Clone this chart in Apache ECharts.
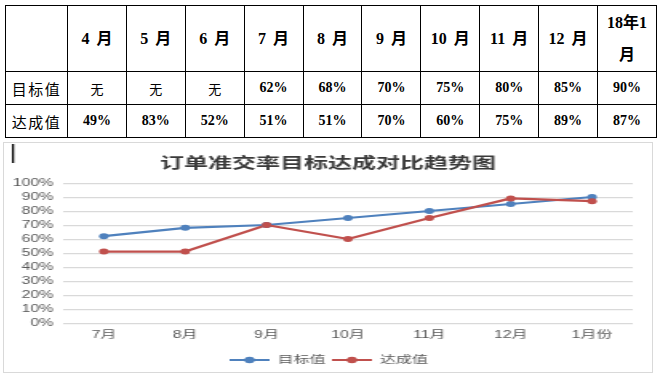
<!DOCTYPE html>
<html>
<head>
<meta charset="utf-8">
<script src="https://cdn.jsdelivr.net/npm/echarts@6/dist/echarts.min.js"></script>
<style>
  body { margin: 0; width: 660px; height: 377px; background: #fff; position: relative; overflow: hidden; }
  .table-style {
    position: absolute; left: 5px; top: 5px;
    border-collapse: collapse; table-layout: fixed; width: 651px;
    font-family: "Liberation Serif", "Noto Sans CJK SC", serif;
    color: #000;
  }
  .table-style td {
    border: 1px solid #000; text-align: center; vertical-align: middle;
    padding: 0; font-weight: bold; font-size: 14px;
  }
  .table-style tr.head td { height: 65px; font-size: 16px; line-height: 32px; word-spacing: 3px; }
  .table-style tr.row td { height: 32px; }
  .table-style td.label { font-size: 15px; letter-spacing: 1.5px; font-weight: normal; font-family: "Noto Sans CJK SC", sans-serif; }
  .table-style td.none { font-weight: normal; font-family: "Noto Sans CJK SC", sans-serif; font-size: 13px; }
  .table-style .wrap { display: inline-block; width: 46px; }
  .chart-box {
    position: absolute; left: 3px; top: 142px; width: 648px; height: 229px;
    border: 1px solid #d9d9d9; overflow: hidden;
  }
  /* 图片在原文档中被横向拉伸 */
  .chart-style {
    position: absolute; left: 0; top: 0; width: 405px; height: 229px;
    transform: scaleX(1.6); transform-origin: 0 0;
  }
</style>
</head>
<body>
<table class="table-style" id="dataTable"></table>
<div class="chart-box"><div id="trendChart" class="chart-style"></div></div>
<script>
// 表格数据
var tableMonths = ['4 月', '5 月', '6 月', '7 月', '8 月', '9 月', '10 月', '11 月', '12 月', '18年1月']
var tableTarget = ['无', '无', '无', '62%', '68%', '70%', '75%', '80%', '85%', '90%']
var tableActual = ['49%', '83%', '52%', '51%', '51%', '70%', '60%', '75%', '89%', '87%']

// 图表数据
var chartTitle = '订单准交率目标达成对比趋势图'
var chartMonths = ['7月', '8月', '9月', '10月', '11月', '12月', '1月份']
var targetValues = [62, 68, 70, 75, 80, 85, 90]
var actualValues = [51, 51, 70, 60, 75, 89, 87]

function buildTable() {
  var html = '<colgroup><col style="width:62px">'
  for (var i = 0; i < tableMonths.length; i++) html += '<col style="width:58.9px">'
  html += '</colgroup>'
  html += '<tr class="head"><td></td>'
  tableMonths.forEach(function(m) {
    html += '<td><span class="wrap">' + m + '</span></td>'
  })
  html += '</tr><tr class="row"><td class="label">目标值</td>'
  tableTarget.forEach(function(v) {
    html += '<td' + (v === '无' ? ' class="none"' : '') + '>' + v + '</td>'
  })
  html += '</tr><tr class="row"><td class="label">达成值</td>'
  tableActual.forEach(function(v) {
    html += '<td>' + v + '</td>'
  })
  html += '</tr>'
  document.getElementById('dataTable').innerHTML = html
}

var labelFont = '"Liberation Sans", "Noto Sans CJK SC", sans-serif'

var options = {
  animation: false,
  title: {
    text: chartTitle,
    left: 'center',
    top: 7,
    textStyle: {
      fontFamily: '"Noto Sans CJK SC", sans-serif',
      fontSize: 15,
      fontWeight: 'bold',
      color: '#3a3a3a'
    }
  },
  legend: {
    left: 'center',
    top: 207,
    itemWidth: 25,
    itemHeight: 8,
    itemGap: 3,
    textStyle: { fontSize: 10, color: '#595959', fontFamily: labelFont },
    data: ['目标值', '达成值']
  },
  grid: {
    top: 40,
    left: 37,
    right: 12,
    bottom: 49
  },
  xAxis: {
    type: 'category',
    data: chartMonths,
    axisLine: { show: false },
    axisTick: { show: false },
    axisLabel: { margin: 7, fontSize: 10, color: '#595959', fontFamily: labelFont }
  },
  yAxis: {
    type: 'value',
    min: 0,
    max: 100,
    interval: 10,
    axisLine: { show: false },
    axisTick: { show: false },
    axisLabel: { formatter: '{value}%', margin: 6, fontSize: 10, color: '#595959', fontFamily: labelFont },
    splitLine: { lineStyle: { color: '#d9d9d9', width: 1.25 } }
  },
  graphic: [
    {
      // 截图中的光标
      type: 'rect',
      shape: { x: 5, y: 1, width: 1.3, height: 19 },
      style: { fill: '#000' }
    }
  ],
  series: [
    {
      name: '目标值',
      type: 'line',
      symbol: 'circle',
      symbolSize: 6,
      itemStyle: { color: '#4f81bd' },
      lineStyle: { width: 2.25, color: '#4f81bd' },
      data: targetValues
    },
    {
      name: '达成值',
      type: 'line',
      symbol: 'circle',
      symbolSize: 6,
      itemStyle: { color: '#c0504d' },
      lineStyle: { width: 2.25, color: '#c0504d' },
      data: actualValues
    }
  ]
}

buildTable()
var chart = echarts.init(document.getElementById('trendChart'))
chart.setOption(options)
</script>
</body>
</html>
